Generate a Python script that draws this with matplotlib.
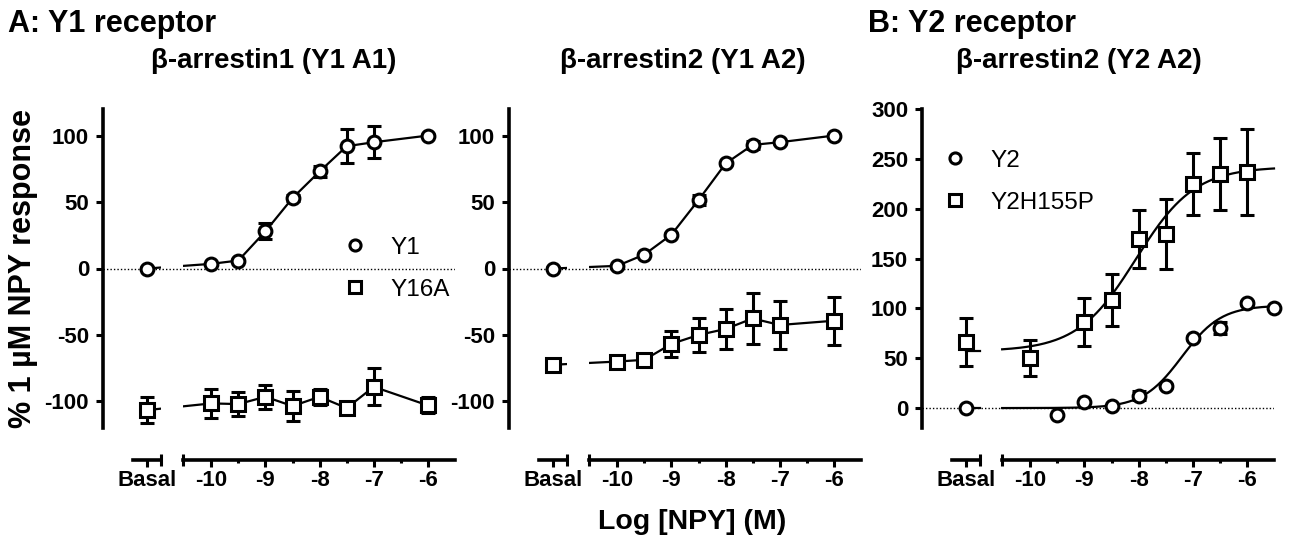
import numpy as np
import matplotlib
matplotlib.use('Agg')
import matplotlib.pyplot as plt
from matplotlib.patches import Rectangle
from matplotlib.lines import Line2D

plt.rcParams['font.family'] = 'Liberation Sans'
plt.rcParams['axes.unicode_minus'] = False

# ---- data ----
# A: Y1 receptor, beta-arrestin1
a1_conc = [-10, -9.5, -9, -8.5, -8, -7.5, -7, -6]
a1_y1 = [3.5, 6, 28, 53, 73, 92, 95, 100]
a1_y1_err = [1, 1, 6, 2, 4, 13, 12, 1]
a1_y1_basal, a1_y1_basal_err = 0, 1
a1_y16a = [-101.5, -102, -96.5, -103.5, -96.5, -105, -89, -103]
a1_y16a_err = [11, 9, 9, 11, 6, 2, 14, 6]
a1_y16a_basal, a1_y16a_basal_err = -106.5, 10

# A: Y1 receptor, beta-arrestin2
a2_conc = [-10, -9.5, -9, -8.5, -8, -7.5, -7, -6]
a2_y1 = [2, 10.5, 25.5, 51.5, 79, 93, 95, 100]
a2_y1_err = [1, 1, 1, 4, 1, 3, 1, 1]
a2_y1_basal, a2_y1_basal_err = 0, 1
a2_y16a = [-70, -68.7, -56.7, -50, -45.5, -37.6, -42.5, -39.3]
a2_y16a_err = [2, 1, 10, 13, 15, 19.5, 18, 18]
a2_y16a_basal, a2_y16a_basal_err = -72.4, 2

# B: Y2 receptor, beta-arrestin2
b_y2_conc = [-9.5, -9, -8.5, -8, -7.5, -7, -6.5, -6, -5.5]
b_y2 = [-6.6, 6, 1.7, 12.6, 22, 70, 80, 105, 100]
b_y2_err = [1, 1, 1, 5, 2, 2, 6, 2, 1]
b_y2_basal, b_y2_basal_err = 0, 1
b_h155p_conc = [-10, -9, -8.5, -8, -7.5, -7, -6.5, -6]
b_h155p = [50, 86.5, 108, 170, 175, 224.6, 235, 237]
b_h155p_err = [18, 24, 26, 29, 35, 31, 36, 43]
b_h155p_basal, b_h155p_basal_err = 66, 24
# fitted curves: bottom, top, logEC50, hill slope
b_y2_fit = [0, 103, -7.2, 1.2]
b_h155p_fit = [57, 242, -8.05, 0.8]

# ---- layout ----
W, H = 1291, 537
BASAL = -11.18
BASAL_SEG = (-11.45, -10.92)
MAIN_SEG = (-10.52, -5.5)
XLIM = (-12, -5.5)
TICK_FS = 16
LW = 2.2

fig = plt.figure(figsize=(W / 100, H / 100), dpi=100)


def make_axes(left, ylim, yticks):
    ax = fig.add_axes([left / W, 1 - 428 / H, 352 / W, (428 - 109) / H])
    ax.set_xlim(XLIM)
    ax.set_ylim(ylim)
    for s in ['top', 'right']:
        ax.spines[s].set_visible(False)
    ax.spines['left'].set_linewidth(2.6)
    ax.spines['bottom'].set_linewidth(2.6)
    ax.spines['bottom'].set_position(('outward', 23))
    ax.spines['bottom'].set_bounds(*MAIN_SEG)
    ax.set_yticks(yticks)
    ax.set_xticks([-10, -9, -8, -7, -6])
    ax.set_xticklabels(['-10', '-9', '-8', '-7', '-6'])
    ax.set_xticks([-9.5, -8.5, -7.5, -6.5], minor=True)
    ax.tick_params(axis='y', length=5, width=2.2, pad=5)
    ax.tick_params(axis='x', which='major', length=5, width=2.2, pad=2)
    ax.tick_params(axis='x', which='minor', length=2.5, width=2.2)
    for lab in ax.get_xticklabels() + ax.get_yticklabels():
        lab.set_fontsize(TICK_FS)
        lab.set_fontweight('bold')
    ax.axhline(0, color='black', lw=1, ls=(0, (1, 1.5)), zorder=1)

    # basal segment of the broken x axis
    axb = ax.twiny()
    axb.set_xlim(XLIM)
    axb.xaxis.tick_bottom()
    for s in ['top', 'right', 'left']:
        axb.spines[s].set_visible(False)
    axb.spines['bottom'].set_position(('outward', 23))
    axb.spines['bottom'].set_linewidth(2.6)
    axb.spines['bottom'].set_bounds(*BASAL_SEG)
    axb.set_xticks([BASAL])
    axb.set_xticklabels(['Basal'], fontsize=TICK_FS, fontweight='bold')
    axb.set_xticks([BASAL_SEG[1], MAIN_SEG[0]], minor=True)
    axb.tick_params(axis='x', which='major', length=5, width=2.2, pad=2)
    axb.tick_params(axis='x', which='minor', direction='inout', length=8, width=2.2)
    return ax


def broken_line(ax, xs, ys):
    spans = [(XLIM[0] - 1, BASAL_SEG[1]), (MAIN_SEG[0], XLIM[1] + 1)]
    for x0, x1 in spans:
        ln, = ax.plot(xs, ys, color='black', lw=1.6, zorder=2)
        ln.set_clip_path(Rectangle((x0, -1000), x1 - x0, 2000, transform=ax.transData))


def points(ax, xs, ys, errs, marker):
    ax.errorbar(xs, ys, yerr=errs, fmt='none', ecolor='black', elinewidth=LW,
                capsize=5, capthick=LW, zorder=3, clip_on=False)
    ms = 9.2 if marker == 'o' else 9.4
    ax.plot(xs, ys, marker, mfc='white', mec='black', mew=LW, ms=ms,
            zorder=4, clip_on=False)


def series(ax, conc, vals, errs, basal, basal_err, marker, connect=True):
    xs = [BASAL] + list(conc)
    ys = [basal] + list(vals)
    es = [basal_err] + list(errs)
    if connect:
        broken_line(ax, xs, ys)
    points(ax, xs, ys, es, marker)


def fit_curve(ax, fit):
    bottom, top, logec, hill = fit
    xx = np.linspace(MAIN_SEG[0], MAIN_SEG[1], 200)
    yy = bottom + (top - bottom) / (1 + 10 ** ((logec - xx) * hill))
    ax.plot(xx, yy, color='black', lw=1.6, zorder=2, clip_on=False)
    ax.plot([BASAL, BASAL_SEG[1]], [bottom, bottom], color='black', lw=1.6, zorder=2)


def legend(ax, labels, anchor):
    handles = [Line2D([], [], ls='none', marker=m, mfc='white', mec='black', mew=LW, ms=8)
               for m in ['o', 's']]
    ax.legend(handles, labels, loc='upper left', bbox_to_anchor=anchor, frameon=False,
              fontsize=17.5, handlelength=1.0, handletextpad=0.95, labelspacing=0.82,
              borderpad=0, borderaxespad=0)


def subtitle(ax, x, text):
    ax.text(x, 1.15, text, transform=ax.transAxes, ha='center', va='center',
            fontsize=20, fontweight='bold')


# panel A1
ax1 = make_axes(103, (-120, 120), [-100, -50, 0, 50, 100])
series(ax1, a1_conc, a1_y1, a1_y1_err, a1_y1_basal, a1_y1_basal_err, 'o')
series(ax1, a1_conc, a1_y16a, a1_y16a_err, a1_y16a_basal, a1_y16a_basal_err, 's')
legend(ax1, ['Y1', 'Y16A'], (0.682, 0.600))
ax1.set_ylabel('% 1 µM NPY response', fontsize=22, fontweight='bold', va='center')
ax1.yaxis.set_label_coords(-0.227, 0.5)
subtitle(ax1, 0.485, 'β-arrestin1 (Y1 A1)')

# panel A2
ax2 = make_axes(509, (-120, 120), [-100, -50, 0, 50, 100])
series(ax2, a2_conc, a2_y1, a2_y1_err, a2_y1_basal, a2_y1_basal_err, 'o')
series(ax2, a2_conc, a2_y16a, a2_y16a_err, a2_y16a_basal, a2_y16a_basal_err, 's')
subtitle(ax2, 0.495, 'β-arrestin2 (Y1 A2)')

# panel B
ax3 = make_axes(922, (-20, 300), [0, 50, 100, 150, 200, 250, 300])
series(ax3, b_y2_conc, b_y2, b_y2_err, b_y2_basal, b_y2_basal_err, 'o', connect=False)
series(ax3, b_h155p_conc, b_h155p, b_h155p_err, b_h155p_basal, b_h155p_basal_err, 's',
       connect=False)
fit_curve(ax3, b_y2_fit)
fit_curve(ax3, b_h155p_fit)
legend(ax3, ['Y2', 'Y2H155P'], (0.060, 0.872))
subtitle(ax3, 0.446, 'β-arrestin2 (Y2 A2)')

fig.text(8 / W, 1 - 24 / H, 'A: Y1 receptor', ha='left', va='center',
         fontsize=22, fontweight='bold')
fig.text(868 / W, 1 - 24 / H, 'B: Y2 receptor', ha='left', va='center',
         fontsize=22, fontweight='bold')
fig.text(692 / W, 1 - 522 / H, 'Log [NPY] (M)', ha='center', va='center',
         fontsize=20.5, fontweight='bold')

fig.savefig('out.png', dpi=100)
